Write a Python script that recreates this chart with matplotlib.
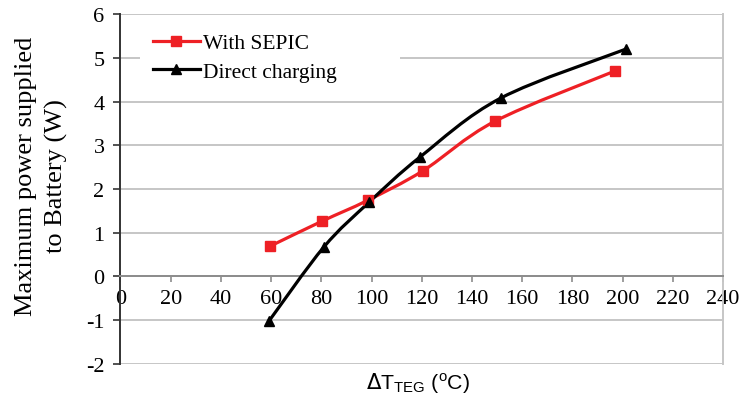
import numpy as np
import matplotlib
matplotlib.use("Agg")
import matplotlib.pyplot as plt
from matplotlib.path import Path
from matplotlib.patches import PathPatch, Rectangle

# values
dt_sepic = [59.6, 80.2, 98.5, 120.6, 149.2, 197.0]
p_sepic = [0.69, 1.26, 1.74, 2.42, 3.55, 4.70]
dt_direct = [59.2, 81.0, 99.1, 119.3, 151.5, 201.3]
p_direct = [-1.02, 0.67, 1.70, 2.73, 4.08, 5.20]

x_ticks = list(range(0, 241, 20))
y_ticks = list(range(-2, 7))

RED = "#ee2025"
GRID = "#c6c6c6"

plt.rcParams["font.family"] = ["Liberation Serif", "DejaVu Serif"]
plt.rcParams["axes.unicode_minus"] = False


def smooth_path(xs, ys):
    # excel-like smoothed line: cubic bezier through the points
    pts = np.column_stack([xs, ys])
    verts = [pts[0]]
    codes = [Path.MOVETO]
    n = len(pts)
    for i in range(n - 1):
        p0 = pts[i - 1] if i > 0 else pts[i]
        p1, p2 = pts[i], pts[i + 1]
        p3 = pts[i + 2] if i + 2 < n else pts[i + 1]
        c1 = p1 + (p2 - p0) / 6.0
        c2 = p2 - (p3 - p1) / 6.0
        verts += [c1, c2, p2]
        codes += [Path.CURVE4] * 3
    return Path(verts, codes)


fig = plt.figure(figsize=(7.41, 4.10), dpi=100)
ax = fig.add_axes([0.1626, 0.1105, 0.8131, 0.8525])

ax.set_xlim(0, 240)
ax.set_ylim(-2, 6)
ax.set_xticks(x_ticks)
ax.set_yticks(y_ticks)
ax.grid(axis="y", color=GRID, lw=1.4, zorder=0)
ax.set_axisbelow(True)

# white legend area as in the original (hides part of the grid)
ax.add_patch(Rectangle((0.032, 0.83), 0.432, 0.15, transform=ax.transAxes,
                       facecolor="white", edgecolor="none", zorder=1))

for x, y, c in [(dt_sepic, p_sepic, RED), (dt_direct, p_direct, "black")]:
    ax.add_patch(PathPatch(smooth_path(x, y), fill=False, edgecolor=c, lw=2.3,
                           capstyle="round", zorder=3))

ax.plot(dt_sepic, p_sepic, ls="none", marker="s", ms=6.5, color=RED, zorder=4)
ax.plot(dt_direct, p_direct, ls="none", marker="^", ms=7, color="black", zorder=4)

# legend handles
ax.plot([], [], color=RED, lw=2.3, marker="s", ms=6.5, label="With SEPIC")
ax.plot([], [], color="black", lw=2.3, marker="^", ms=7, label="Direct charging")
leg = ax.legend(loc="upper left", bbox_to_anchor=(0.025, 0.995), frameon=False,
                fontsize=15.5, handlelength=2.2, handletextpad=0.15,
                labelspacing=0.4, borderpad=0.3)
leg.set_zorder(2)

ax.spines["top"].set_visible(False)
ax.spines["right"].set_color(GRID)
ax.spines["right"].set_linewidth(1.4)
ax.spines["left"].set_color("#333333")
ax.spines["left"].set_linewidth(1.4)
ax.spines["bottom"].set_position(("data", 0))
ax.spines["bottom"].set_color("#8c8c8c")
ax.spines["bottom"].set_linewidth(1.4)

ax.tick_params(axis="x", direction="out", length=4, width=1.2, color="#8c8c8c",
               labelsize=16, pad=5)
ax.tick_params(axis="y", direction="out", length=5, width=1.2, color="#333333",
               labelsize=16, pad=6.5)

fig.text(0.056, 0.57, "Maximum power supplied\nto Battery (W)", rotation=90,
         ha="center", va="center", multialignment="center", fontsize=19,
         linespacing=1.5)
fig.text(0.564, 0.066, r"$\Delta\mathregular{T_{TEG}}$ ($\mathregular{^o}$C)",
         ha="center", va="center", fontsize=15.3, family="Liberation Sans")

fig.savefig("out.png", dpi=100)
